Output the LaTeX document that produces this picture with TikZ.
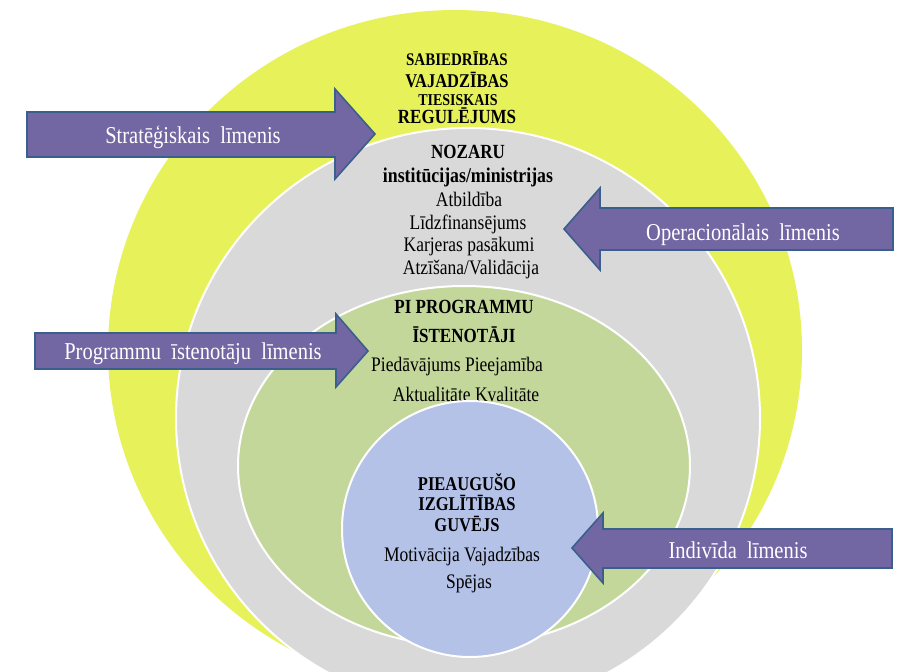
\documentclass[tikz,border=0pt]{standalone}
\usepackage{fontspec}
\setmainfont{Liberation Serif}
\usepackage{graphicx}
\usepackage{xcolor}
\definecolor{ringsociety}{RGB}{231,242,90}
\definecolor{ringsector}{RGB}{217,217,217}
\definecolor{ringprovider}{RGB}{196,215,155}
\definecolor{ringlearner}{RGB}{180,194,232}
\definecolor{arrowfill}{RGB}{115,103,163}
\definecolor{arrowline}{RGB}{58,95,140}
\newcommand{\tallbox}[1]{\scalebox{1}[1.18]{#1}}

\begin{document}
\begin{tikzpicture}[x=1pt, y=-1pt,
  ring/.style={draw=white, line width=2pt},
  arrowbox/.style={fill=arrowfill, draw=arrowline, line width=1.6pt, line join=miter},
  arrowtext/.style={anchor=base, inner sep=0pt, text=white, font=\fontsize{20.5}{24}\selectfont},
  headtext/.style={anchor=base, inner sep=0pt, font=\bfseries\fontsize{17}{20}\selectfont},
  itemtext/.style={anchor=base, inner sep=0pt, font=\fontsize{17.5}{20}\selectfont}]
\useasboundingbox (0,0) rectangle (898,672);
\clip (0,0) rectangle (898,672);
\fill[white] (0,0) rectangle (898,672);

% Rings
\fill[color=ringsociety] (455,350) ellipse [x radius=347pt, y radius=340pt];
\filldraw[ring, fill=ringsector] (468,418) ellipse [x radius=292pt, y radius=290pt];
\filldraw[ring, fill=ringprovider] (464,466) ellipse [x radius=226pt, y radius=180pt];

% Society level
\node[headtext, font=\bfseries\fontsize{15}{18}\selectfont] (soc1) at (457,65) {\tallbox{SABIEDRĪBAS}};
\node[headtext, font=\bfseries\fontsize{16.5}{19}\selectfont] (soc2) at (457,87) {\tallbox{VAJADZĪBAS}};
\node[headtext, font=\bfseries\fontsize{14}{17}\selectfont] (soc3) at (458,105) {\tallbox{TIESISKAIS}};
\node[headtext] (soc4) at (457,123) {\tallbox{REGULĒJUMS}};

% Sector level
\node[headtext] (sec1) at (468,158) {\tallbox{NOZARU}};
\node[headtext, font=\bfseries\fontsize{17.8}{20}\selectfont] (sec2) at (468,182) {\tallbox{institūcijas/ministrijas}};
\node[itemtext] (sec3) at (469,206) {\tallbox{Atbildība}};
\node[itemtext] (sec4) at (468,229) {\tallbox{Līdzfinansējums}};
\node[itemtext] (sec5) at (469,251) {\tallbox{Karjeras pasākumi}};
\node[itemtext] (sec6) at (471,274) {\tallbox{Atzīšana/Validācija}};

% Provider level
\node[headtext] (prov1) at (464,313) {\tallbox{PI PROGRAMMU}};
\node[headtext] (prov2) at (464,342) {\tallbox{ĪSTENOTĀJI}};
\node[itemtext] (prov3) at (457,371) {\tallbox{Piedāvājums Pieejamība}};
\node[itemtext] (prov4) at (466,401) {\tallbox{Aktualitāte Kvalitāte}};

% Learner level
\filldraw[ring, fill=ringlearner] (470,529) circle [radius=128pt];
\node[headtext, font=\bfseries\fontsize{16.5}{19}\selectfont] (lrn1) at (467,490) {\tallbox{PIEAUGUŠO}};
\node[headtext, font=\bfseries\fontsize{16.5}{19}\selectfont] (lrn2) at (467,510) {\tallbox{IZGLĪTĪBAS}};
\node[headtext, font=\bfseries\fontsize{16.5}{19}\selectfont] (lrn3) at (467,531) {\tallbox{GUVĒJS}};
\node[itemtext] (lrn4) at (462,561) {\tallbox{Motivācija Vajadzības}};
\node[itemtext] (lrn5) at (469,588) {\tallbox{Spējas}};

% Arrows
\draw[arrowbox] (27,112) -- (335,112) -- (335,89) -- (375,134) -- (335,179) -- (335,157) -- (27,157) -- cycle;
\node[arrowtext] (strategic) at (193,143) {\tallbox{Stratēģiskais~~līmenis}};

\draw[arrowbox] (893,208) -- (600,208) -- (600,188) -- (564,229) -- (600,270) -- (600,250) -- (893,250) -- cycle;
\node[arrowtext] (operational) at (743,240) {\tallbox{Operacionālais~~līmenis}};

\draw[arrowbox] (35,333) -- (336,333) -- (336,314) -- (368,351) -- (336,387) -- (336,369) -- (35,369) -- cycle;
\node[arrowtext] (provider) at (193,359) {\tallbox{Programmu~~īstenotāju~~līmenis}};

\draw[arrowbox] (892,529) -- (603,529) -- (603,513) -- (572,548) -- (603,583) -- (603,568) -- (892,568) -- cycle;
\node[arrowtext] (individual) at (738,558) {\tallbox{Indivīda~~līmenis}};
\end{tikzpicture}
\end{document}
